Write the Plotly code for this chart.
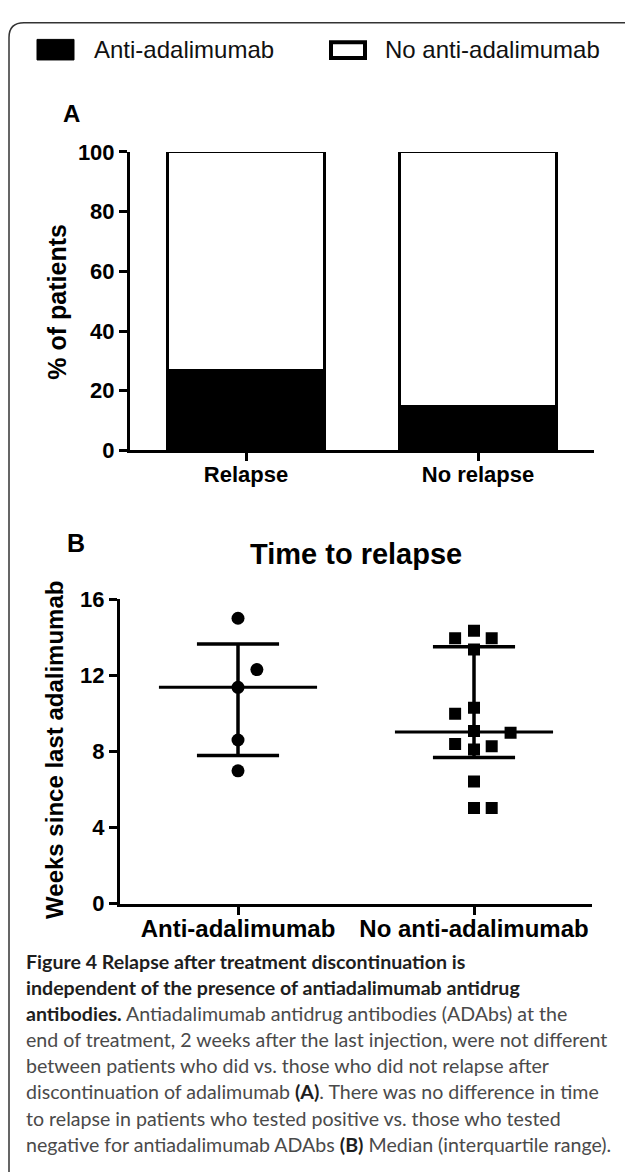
import numpy as np
import plotly.graph_objects as go

# ---------------- data ----------------
series_names = ["Anti-adalimumab", "No anti-adalimumab"]
groups_a = ["Relapse", "No relapse"]
anti_pct = [26.7, 14.6]          # % of patients with anti-adalimumab
no_anti_pct = [100 - v for v in anti_pct]

groups_b = ["Anti-adalimumab", "No anti-adalimumab"]
weeks_anti = [15.0, 12.3, 11.37, 8.6, 6.98]
jitter_anti = [0, 0.08, 0, 0, 0]
weeks_no_anti = [14.34, 13.95, 13.95, 13.35, 10.30, 9.98, 9.07, 8.98,
                 8.39, 8.27, 8.10, 6.42, 5.02, 5.02]
jitter_no_anti = [0, -0.08, 0.075, 0, 0, -0.08, 0, 0.155,
                  -0.08, 0.075, 0, 0, 0, 0.075]

ticks_a = [0, 20, 40, 60, 80, 100]
ticks_b = [0, 4, 8, 12, 16]

caption_lines = [
    "<b>Figure 4 Relapse after treatment discontinuation is</b>",
    "<b>independent of the presence of antiadalimumab antidrug</b>",
    "<b>antibodies.</b> Antiadalimumab antidrug antibodies (ADAbs) at the",
    "end of treatment, 2 weeks after the last injection, were not different",
    "between patients who did vs. those who did not relapse after",
    "discontinuation of adalimumab <b>(A)</b>. There was no difference in time",
    "to relapse in patients who tested positive vs. those who tested",
    "negative for antiadalimumab ADAbs <b>(B)</b> Median (interquartile range).",
]

# ---------------- helpers ----------------
W, H = 625, 1172
def X(px):
    return px / W
def Y(py):
    return 1 - py / H

AX_FONT = "Liberation Sans, Arial, sans-serif"
CAP_FONT = "Lato, sans-serif"

fig = go.Figure()

# ---------------- panel A: stacked bars ----------------
fig.add_trace(go.Bar(x=[0, 1], y=anti_pct, width=0.68, name=series_names[0],
                     marker=dict(color="black", line=dict(color="black", width=3)),
                     xaxis="x", yaxis="y", showlegend=False))
fig.add_trace(go.Bar(x=[0, 1], y=no_anti_pct, width=0.68, name=series_names[1],
                     marker=dict(color="white", line=dict(color="black", width=3)),
                     xaxis="x", yaxis="y", showlegend=False))

# ---------------- panel B: scatter + median/IQR ----------------
MED_HW = 0.335
CAP_HW = 0.174
for gi, (vals, jit, sym) in enumerate([(weeks_anti, jitter_anti, "circle"),
                                       (weeks_no_anti, jitter_no_anti, "square")]):
    arr = np.array(vals)
    med = float(np.median(arr))
    q1 = float(np.percentile(arr, 25, method="weibull"))
    q3 = float(np.percentile(arr, 75, method="weibull"))
    fig.add_trace(go.Scatter(x=[gi + j for j in jit], y=vals, mode="markers",
                             marker=dict(symbol=sym, color="black", size=13 if sym == "circle" else 12),
                             xaxis="x2", yaxis="y2", showlegend=False, name=groups_b[gi]))
    fig.add_trace(go.Scatter(x=[gi, gi], y=[q1, q3], mode="lines",
                             line=dict(color="black", width=3.5),
                             xaxis="x2", yaxis="y2", showlegend=False, hoverinfo="skip"))
    for q in (q1, q3):
        fig.add_trace(go.Scatter(x=[gi - CAP_HW, gi + CAP_HW], y=[q, q], mode="lines",
                                 line=dict(color="black", width=3.5),
                                 xaxis="x2", yaxis="y2", showlegend=False, hoverinfo="skip"))
    fig.add_trace(go.Scatter(x=[gi - MED_HW, gi + MED_HW], y=[med, med], mode="lines",
                             line=dict(color="black", width=3),
                             xaxis="x2", yaxis="y2", showlegend=False, hoverinfo="skip"))

axis_common = dict(showgrid=False, zeroline=False, showline=True, linecolor="black",
                   linewidth=3, ticks="outside", ticklen=8, tickwidth=2.5, tickcolor="black",
                   fixedrange=True)

fig.update_layout(
    width=W, height=H,
    margin=dict(l=0, r=0, t=0, b=0),
    paper_bgcolor="white", plot_bgcolor="white",
    barmode="stack",
    xaxis=dict(domain=[X(130), X(594)], range=[-0.5, 1.5], tickvals=[0, 1], ticktext=groups_a,
               tickfont=dict(family=AX_FONT, size=22, color="black", weight="bold"),
               ticklabelstandoff=-6, anchor="y", **axis_common),
    yaxis=dict(domain=[Y(448), Y(143)], range=[0, 100], tickvals=ticks_a,
               tickfont=dict(family=AX_FONT, size=22, color="black", weight="bold"),
               anchor="x", **axis_common),
    xaxis2=dict(domain=[X(120), X(592)], range=[-0.5, 1.5], tickvals=[0, 1], ticktext=groups_b,
                tickfont=dict(family=AX_FONT, size=24, color="black", weight="bold"),
                ticklabelstandoff=-6, anchor="y2", **axis_common),
    yaxis2=dict(domain=[Y(911), Y(600)], range=[0, 16], tickvals=ticks_b,
                tickfont=dict(family=AX_FONT, size=22, color="black", weight="bold"),
                anchor="x2", **axis_common),
)

annotations = []
def ann(text, x, y, size, bold=False, xanchor="center", angle=0, font=AX_FONT, color="black"):
    annotations.append(dict(text=text, x=X(x), y=Y(y), xref="paper", yref="paper",
                            xanchor=xanchor, yanchor="middle", showarrow=False, textangle=angle,
                            font=dict(family=font, size=size, color=color,
                                      weight="bold" if bold else "normal")))

ann(series_names[0], 92, 38, 24, xanchor="left", color="#111")
ann(series_names[1], 383, 38, 24, xanchor="left", color="#111")
ann("A", 71, 104, 24, bold=True)
ann("B", 76, 543, 25, bold=True)
ann("Time to relapse", 356, 554, 29, bold=True)
ann("% of patients", 57, 296, 25, bold=True, angle=-90)
ann("Weeks since last adalimumab", 55, 754, 24, bold=True, angle=-90)

cap_y0, cap_dy = 970, 26.7
for i, line in enumerate(caption_lines):
    styled = line.replace("<b>", "<b><span style='color:#1e1e1e'>").replace("</b>", "</span></b>")
    ann(styled, 24, cap_y0 + i * cap_dy, 19.6, xanchor="left", font=CAP_FONT, color="#4a4a4a")

fig.update_layout(annotations=annotations)

shapes = [
    dict(type="rect", xref="paper", yref="paper", x0=X(37), x1=X(74), y0=Y(49), y1=Y(28),
         fillcolor="black", line=dict(color="black", width=1)),
    dict(type="rect", xref="paper", yref="paper", x0=X(331), x1=X(365), y0=Y(47), y1=Y(31),
         fillcolor="white", line=dict(color="black", width=4)),
]
r = 15
path = (f"M {X(9)},{Y(1200)} L {X(9)},{Y(11 + r)} Q {X(9)},{Y(11)} {X(9 + r)},{Y(11)} "
        f"L {X(660)},{Y(11)}")
shapes.append(dict(type="path", xref="paper", yref="paper", path=path,
                   line=dict(color="#333", width=1.5)))
fig.update_layout(shapes=shapes)

fig.write_html("out.html", config={"displayModeBar": False},
               post_script="document.body.style.margin='0';document.body.style.padding='0';")
